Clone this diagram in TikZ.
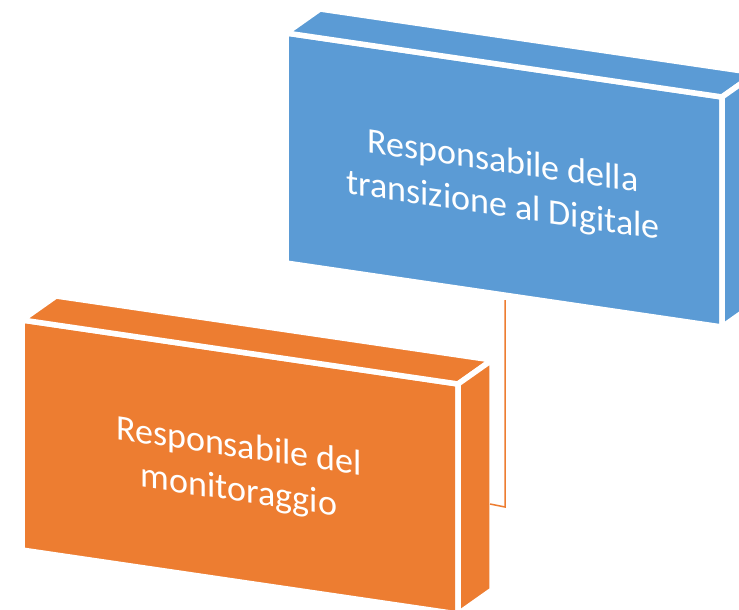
\documentclass[tikz,border=0pt]{standalone}
\usepackage{fontspec}
\setmainfont{Carlito}
\definecolor{boxblue}{HTML}{5B9BD5}
\definecolor{boxorange}{HTML}{ED7D31}
\begin{document}
\begin{tikzpicture}[x=1pt,y=-1pt,
  face/.style={line width=5.5pt, draw=white, line join=round},
  boxlabel/.style={text=white, align=center, font=\fontsize{36}{44}\selectfont, inner sep=0pt, transform shape},
  link/.style={draw=boxorange, line width=1.5pt}]
\useasboundingbox (0,0) rectangle (739,610);
\clip (0,0) rectangle (739,610);
% blue box
\coordinate (bA) at (286,33);
\coordinate (bB) at (722,97);
\coordinate (bC) at (722,327);
\coordinate (bD) at (286,263);
\coordinate (bA2) at (320,9);
\coordinate (bB2) at (756,73);
\coordinate (bC2) at (756,303);
\filldraw[face, fill=boxblue] (bA) -- (bB) -- (bC) -- (bD) -- cycle;
\filldraw[face, fill=boxblue] (bA) -- (bB) -- (bB2) -- (bA2) -- cycle;
\filldraw[face, fill=boxblue] (bB) -- (bB2) -- (bC2) -- (bC) -- cycle;
% orange box
\coordinate (oA) at (22,320);
\coordinate (oB) at (458,384);
\coordinate (oC) at (458,614);
\coordinate (oD) at (22,550);
\coordinate (oA2) at (56,296);
\coordinate (oB2) at (492,360);
\coordinate (oC2) at (492,590);
\filldraw[face, fill=boxorange] (oA) -- (oB) -- (oC) -- (oD) -- cycle;
\filldraw[face, fill=boxorange] (oA) -- (oB) -- (oB2) -- (oA2) -- cycle;
\filldraw[face, fill=boxorange] (oB) -- (oB2) -- (oC2) -- (oC) -- cycle;
% texts
\begin{scope}[shift={(503,185)}, yslant=-0.147]
\node[boxlabel] (bluetext) at (0,0) {Responsabile della\\transizione al Digitale};
\end{scope}
\begin{scope}[shift={(239,470)}, yslant=-0.147]
\node[boxlabel] (orangetext) at (0,0) {Responsabile del\\monitoraggio};
\end{scope}
% connector
\coordinate (blueFoot) at (505,300);
\coordinate (bend) at (505,507);
\coordinate (orangeSide) at (490,504);
\draw[link] (blueFoot) -- (bend) -- (orangeSide);
\end{tikzpicture}
\end{document}
